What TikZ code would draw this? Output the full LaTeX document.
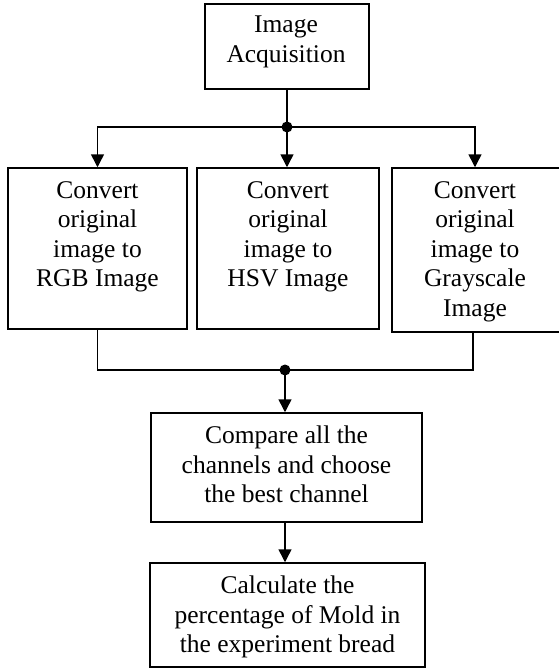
\documentclass[tikz,border=0pt]{standalone}
\usepackage{fontspec}
\setmainfont{Liberation Serif}
\usetikzlibrary{arrows.meta}
\begin{document}
\begin{tikzpicture}[x=1pt,y=-1pt,
  box/.style={draw, line width=1.5pt, minimum width=#1, inner sep=0pt},
  txt/.style={anchor=north, align=center, inner sep=0pt, font=\fontsize{25.5}{29.5}\selectfont},
  conn/.style={line width=1.5pt},
  arr/.style={line width=1.5pt, -{Triangle[length=13pt,width=13pt]}},
  dot/.style={circle, fill=black, minimum size=11pt, inner sep=0pt}]
\useasboundingbox (0,0) rectangle (558,670);
% boxes
\node[box=164pt, minimum height=85pt] (top) at (287,46.5) {};
\node[box=179pt, minimum height=161pt] (b1) at (97.5,248.5) {};
\node[box=182pt, minimum height=161pt] (b2) at (288,248.5) {};
\node[box=168pt, minimum height=164pt] (b3) at (476,250) {};
\node[box=271pt, minimum height=109pt] (cmp) at (286.5,467.5) {};
\node[box=275pt, minimum height=104pt] (calc) at (287.5,615) {};
% texts
\node[txt] (t0) at (286,16) {Image\\Acquisition};
\node[txt] (t1) at (97.5,181) {Convert\\original\\image to\\RGB Image};
\node[txt] (t2) at (288,181) {Convert\\original\\image to\\HSV Image};
\node[txt] (t3) at (475,181) {Convert\\original\\image to\\Grayscale\\Image};
\node[txt] (t4) at (286.5,426) {Compare all the\\channels and choose\\the best channel};
\node[txt] (t5) at (287.5,576) {Calculate the\\percentage of Mold in\\the experiment bread};
% junctions
\node[dot] (d1) at (287,127) {};
\node[dot] (d2) at (285,370) {};
% connectors
\draw[conn] (top.south) -- (d1.center);
\draw[arr] (d1.center) -| (b1.north);
\draw[arr] (d1.center) -- (d1.center |- b2.north);
\draw[arr] (d1.center) -| (b3.north -| 475,0);
\draw[conn] (b1.south) |- (d2.center);
\draw[conn] (b3.south -| 473,0) |- (d2.center);
\draw[arr] (d2.center) -- (d2.center |- cmp.north);
\draw[arr] (cmp.south -| d2.center) -- (d2.center |- calc.north);
\end{tikzpicture}
\end{document}
